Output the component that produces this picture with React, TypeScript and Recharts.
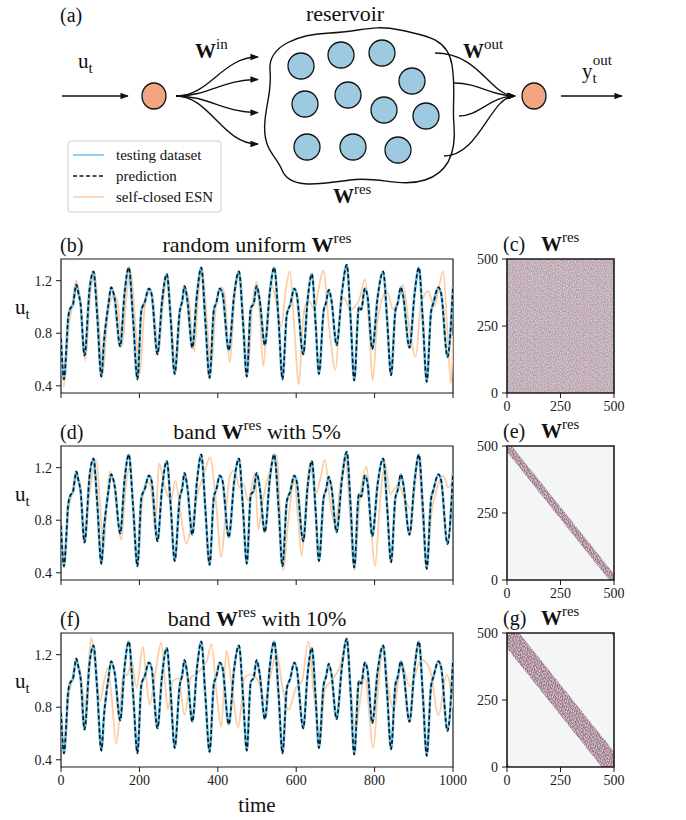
import React from "react";
import {
  LineChart,
  Line,
  ComposedChart,
  Area,
  XAxis,
  YAxis,
  ReferenceArea,
} from "recharts";

const FONT = '"Liberation Serif", "Times New Roman", serif';
const INK = "#1a1a1a";
const BLUE = "#64c2ec";
const PEACH = "#fdcda4";
const NODE = "#f2a583";
const CELL = "#9ecae1";

// ---- data ----
const timeTicks = [0, 200, 400, 600, 800, 1000];
const uTicks = [0.4, 0.8, 1.2];
const matrixTicks = [0, 250, 500];

// testing dataset (time, u_t); the prediction sits on top of it
const testing: [number, number][] = [
  [0, 0.76], [7.6, 0.45], [14, 0.7], [18, 0.91], [24, 0.99], [30, 1.01], [39, 1.17], [44, 1.11],
  [50, 1.02], [60, 0.63], [73, 1.14], [83, 1.27], [92, 0.95], [103, 0.47], [110, 0.75], [116, 0.91],
  [121, 1.02], [128, 1.15], [137, 1.06], [151, 0.7], [162, 1.1], [173, 1.3], [184, 0.9], [195, 0.45],
  [205, 0.97], [214, 1.04], [224, 1.14], [231, 1.1], [246, 0.64], [258, 1.05], [270, 1.25], [280, 0.9],
  [290, 0.49], [303, 0.97], [309, 1.04], [315, 1.16], [322, 1.06], [335, 0.69], [347, 1.1], [358, 1.3],
  [368, 0.9], [379, 0.46], [390, 0.98], [396, 1.03], [405, 1.14], [412, 1.1], [428, 0.67], [442, 1.1],
  [454, 1.27], [464, 0.9], [474, 0.47], [484, 0.99], [492, 1.03], [499, 1.16], [507, 1.05], [520, 0.71],
  [533, 1.12], [544, 1.3], [555, 0.9], [565, 0.45], [576, 0.94], [585, 1.02], [595, 1.14], [601, 1.1],
  [618, 0.64], [629, 1.05], [640, 1.25], [650, 0.85], [658, 0.49], [670, 0.97], [676, 1.03], [683, 1.13],
  [690, 1.05], [703, 0.71], [717, 1.12], [729, 1.32], [739, 0.9], [748, 0.44], [760, 1.0], [766, 0.98],
  [775, 1.14], [782, 1.08], [794, 0.68], [808, 1.08], [822, 1.27], [832, 0.9], [842, 0.48], [853, 0.97],
  [859, 1.03], [867, 1.15], [873, 1.08], [889, 0.69], [902, 1.1], [913, 1.3], [923, 0.9], [933, 0.43],
  [944, 0.96], [950, 1.03], [963, 1.15], [970, 1.1], [986, 0.62], [1000, 1.16],
];
const prediction = testing;

const selfClosedUniform: [number, number][] = [
  [0, 0.72], [7, 0.39], [20, 0.86], [28, 1.0], [39, 1.2], [48, 1.08], [62, 0.59], [75, 1.1],
  [86, 1.25], [96, 0.9], [107, 0.5], [118, 0.9], [128, 1.06], [137, 1.09], [145, 1.02], [156, 0.7],
  [166, 1.05], [178, 1.27], [190, 0.85], [201, 0.49], [212, 0.95], [222, 1.1], [232, 1.1], [249, 0.66],
  [260, 1.02], [272, 1.24], [282, 0.88], [292, 0.52], [305, 0.98], [318, 1.14], [326, 1.05], [340, 0.66],
  [350, 1.08], [360, 1.28], [372, 0.9], [383, 0.53], [395, 1.0], [410, 1.15], [418, 1.08], [430, 0.58],
  [444, 1.1], [456, 1.27], [466, 0.88], [477, 0.52], [488, 1.02], [500, 1.19], [507, 0.95], [516, 0.55],
  [527, 0.95], [537, 1.18], [548, 1.05], [562, 0.85], [573, 1.12], [584, 1.27], [595, 0.85], [607, 0.41],
  [615, 0.8], [622, 1.0], [632, 1.05], [647, 0.98], [658, 1.15], [669, 1.28], [684, 0.85], [700, 0.52],
  [712, 0.95], [722, 1.07], [738, 0.98], [760, 1.05], [776, 1.21], [786, 0.85], [795, 0.44], [806, 0.85],
  [818, 1.05], [831, 1.12], [848, 0.98], [860, 1.05], [873, 1.17], [888, 0.85], [905, 0.62], [918, 1.02],
  [937, 1.12], [952, 1.0], [964, 1.15], [975, 1.27], [985, 0.85], [995, 0.42], [1000, 0.78],
];

const selfClosedBand5: [number, number][] = [
  [0, 0.74], [8, 0.44], [18, 0.85], [30, 1.02], [38, 1.12], [48, 1.08], [60, 0.73], [70, 0.95],
  [80, 1.15], [90, 1.26], [100, 0.9], [108, 0.57], [116, 0.9], [124, 1.17], [134, 1.1], [154, 0.65],
  [164, 1.02], [175, 1.2], [186, 0.85], [196, 0.48], [206, 0.9], [218, 1.1], [230, 1.05], [240, 0.72],
  [250, 1.23], [265, 1.05], [280, 0.95], [292, 1.1], [305, 0.85], [320, 0.62], [335, 0.8], [350, 1.02],
  [365, 1.15], [380, 1.28], [395, 0.95], [409, 0.52], [420, 0.85], [432, 1.15], [443, 1.18], [455, 1.05],
  [465, 1.08], [477, 0.95], [495, 1.16], [503, 0.73], [515, 0.95], [530, 1.15], [550, 1.3], [567, 0.42],
  [580, 0.8], [595, 1.1], [605, 0.8], [614, 0.53], [625, 0.95], [635, 1.23], [650, 1.0], [662, 1.12],
  [673, 1.26], [686, 0.95], [699, 0.76], [712, 1.05], [725, 1.3], [737, 0.85], [748, 0.42], [762, 0.95],
  [780, 1.21], [790, 0.8], [801, 0.45], [814, 0.95], [827, 1.23], [840, 1.0], [861, 1.07], [878, 0.95],
  [895, 0.88], [912, 1.28], [922, 0.85], [933, 0.45], [945, 0.85], [960, 1.05], [975, 1.14], [988, 1.05],
  [1000, 1.1],
];

const selfClosedBand10: [number, number][] = [
  [0, 0.74], [8, 0.44], [18, 0.85], [28, 1.0], [38, 1.15], [50, 1.05], [62, 0.8], [70, 1.1],
  [77, 1.33], [88, 1.1], [100, 0.85], [110, 1.0], [120, 1.1], [130, 0.85], [141, 0.52], [150, 0.75],
  [158, 1.03], [170, 1.05], [180, 1.15], [193, 0.95], [209, 1.26], [218, 1.0], [226, 0.82], [240, 1.05],
  [256, 1.29], [265, 1.0], [273, 0.78], [285, 1.0], [300, 1.02], [315, 0.74], [332, 1.03], [345, 1.05],
  [360, 1.1], [372, 1.15], [384, 1.28], [397, 0.9], [409, 0.65], [422, 1.23], [436, 0.95], [452, 0.65],
  [469, 1.03], [485, 1.05], [503, 1.0], [520, 0.85], [535, 1.05], [550, 1.21], [565, 0.95], [580, 0.78],
  [600, 0.95], [615, 1.0], [631, 1.3], [645, 0.9], [661, 0.55], [673, 0.94], [690, 1.0], [710, 1.1],
  [729, 1.28], [740, 0.9], [750, 0.65], [775, 1.03], [797, 0.49], [808, 0.9], [822, 1.26], [835, 0.95],
  [848, 0.78], [869, 1.13], [890, 0.96], [920, 1.16], [941, 1.09], [963, 0.74], [984, 1.05], [1000, 0.8],
];

// band edges of W_res: [column, lowest row, highest row]
const band5: [number, number, number][] = [[0, 478, 500], [22, 456, 500], [478, 0, 44], [500, 0, 22]];
const band10: [number, number, number][] = [[0, 443, 500], [57, 386, 500], [443, 0, 114], [500, 0, 57]];
const cornerLow: [number, number, number][] = [[0, 0, 14], [14, 0, 0]];
const cornerHigh: [number, number, number][] = [[486, 500, 500], [500, 486, 500]];

const colorbarUniform = [-0.2, 0, 0.2];
const colorbarBand5 = [-0.7, 0, 0.7];
const colorbarBand10 = [-0.5, 0, 0.5];

// ---- styles ----
const U_MIN = 0.345;
const U_MAX = 1.365;
const PANEL_H = 134;
const RDBU = ["#67001f", "#b2182b", "#d6604d", "#f4a582", "#fddbc7", "#f7f7f7", "#d1e5f0", "#92c5de", "#4393c3", "#2166ac", "#053061"];
// speckle tiles; layered at different angles so the texture doesn't read as stripes
const TILE_A = ["RbwBrmb", "mrBbRwr", "bwRrmBw", "BmbwRrb", "rRwbBmR", "wbBmrRb", "mrwRbwB"];
const TILE_B = ["BrwRb", "wRbmr", "rbBwR", "RmrbB", "bwRrm"];
const SOFT: Record<string, string> = { R: "#cf7f7a", r: "#e4b2a8", B: "#7ea3c8", b: "#b3c9de", w: "#e8e1e4", m: "#bea8b7" };
const STRONG: Record<string, string> = { R: "#c0434b", r: "#ec9c8a", B: "#3e7db6", b: "#94bedb", w: "#eee5e8", m: "#b08aa0" };

const pts = (arr: [number, number][]) => arr.map(([t, v]) => ({ t, v }));
const bandPts = (arr: [number, number, number][]) => arr.map(([x, lo, hi]) => ({ x, r: [lo, hi] }));
const fmtCb = (v: number) => (v < 0 ? "-" : "") + Math.abs(v).toFixed(1);

const tickStyle = { fill: INK, fontSize: 14, fontFamily: FONT };

function speckle(id: string, tile: string[], palette: Record<string, string>, transform?: string) {
  const n = tile.length;
  return (
    <pattern id={id} width={n} height={n} patternUnits="userSpaceOnUse" patternTransform={transform}>
      {tile.flatMap((row, y) =>
        row.split("").map((c, x) => (
          <rect key={`${x}-${y}`} x={x} y={y} width={1} height={1} fill={palette[c]} />
        ))
      )}
    </pattern>
  );
}

function SharedDefs() {
  return (
    <svg width={0} height={0} style={{ position: "absolute" }}>
      <defs>
        {speckle("softA", TILE_A, SOFT)}
        {speckle("softB", TILE_B, SOFT, "rotate(33)")}
        {speckle("softC", TILE_A, SOFT, "rotate(-61) scale(0.9)")}
        {speckle("strongA", TILE_A, STRONG)}
        {speckle("strongB", TILE_B, STRONG, "rotate(33)")}
        <linearGradient id="rdbu" x1="0" y1="1" x2="0" y2="0">
          {RDBU.map((c, i) => (
            <stop key={c} offset={i / (RDBU.length - 1)} stopColor={c} />
          ))}
        </linearGradient>
        <marker id="arrow" viewBox="0 0 10 10" refX="9" refY="5" markerWidth="6" markerHeight="6" orient="auto">
          <path d="M0,1 L10,5 L0,9 z" fill="#111" />
        </marker>
      </defs>
    </svg>
  );
}

function TimePanel({ top, selfClosed, showLabels }: { top: number; selfClosed: [number, number][]; showLabels?: boolean }) {
  return (
    <div style={{ position: "absolute", left: 0, top: top - 4 }}>
      <LineChart width={472} height={PANEL_H + 4 + 30} margin={{ top: 4, right: 19, bottom: 0, left: 0 }}>
        <XAxis
          type="number"
          dataKey="t"
          domain={[0, 1000]}
          ticks={timeTicks}
          height={30}
          axisLine={false}
          tickSize={5}
          tickMargin={3}
          tickLine={{ stroke: INK }}
          tick={tickStyle}
          tickFormatter={(v: number) => (showLabels ? String(v) : "")}
          allowDataOverflow
        />
        <YAxis
          type="number"
          domain={[U_MIN, U_MAX]}
          ticks={uTicks}
          width={61}
          axisLine={false}
          tickSize={5}
          tickMargin={4}
          tickLine={{ stroke: INK }}
          tick={tickStyle}
          tickFormatter={(v: number) => v.toFixed(1)}
          allowDataOverflow
        />
        <Line data={pts(selfClosed)} dataKey="v" type="monotone" stroke={PEACH} strokeWidth={1.8} dot={false} activeDot={false} isAnimationActive={false} />
        <Line data={pts(testing)} dataKey="v" type="monotone" stroke={BLUE} strokeWidth={2.6} dot={false} activeDot={false} isAnimationActive={false} />
        <Line data={pts(prediction)} dataKey="v" type="monotone" stroke="#111" strokeWidth={1.6} strokeDasharray="4 2.5" dot={false} activeDot={false} isAnimationActive={false} />
        <ReferenceArea x1={0} x2={1000} y1={U_MIN} y2={U_MAX} fill="none" stroke={INK} strokeWidth={1.2} />
      </LineChart>
    </div>
  );
}

function BandArea({ data, fill, opacity }: { data: [number, number, number][]; fill: string; opacity: number }) {
  return <Area data={bandPts(data)} dataKey="r" type="linear" stroke="none" fill={fill} fillOpacity={opacity} isAnimationActive={false} />;
}

function MatrixPanel({ top, band, corners }: { top: number; band?: [number, number, number][]; corners?: boolean }) {
  const layers = band ? [band, ...(corners ? [cornerLow, cornerHigh] : [])] : [];
  return (
    <div style={{ position: "absolute", left: 460, top: top - 8 }}>
      <ComposedChart width={168} height={PANEL_H + 8 + 28} margin={{ top: 8, right: 14, bottom: 0, left: 0 }} data={[{ x: 0 }, { x: 500 }]}>
        <XAxis
          type="number"
          dataKey="x"
          domain={[0, 500]}
          ticks={matrixTicks}
          height={28}
          axisLine={false}
          tickSize={5}
          tickMargin={3}
          tickLine={{ stroke: INK }}
          tick={tickStyle}
          allowDataOverflow
        />
        <YAxis
          type="number"
          domain={[0, 500]}
          ticks={matrixTicks}
          width={47}
          axisLine={false}
          tickSize={5}
          tickMargin={4}
          tickLine={{ stroke: INK }}
          tick={tickStyle}
          allowDataOverflow
        />
        {band ? (
          <ReferenceArea x1={0} x2={500} y1={0} y2={500} fill="#f4f6f6" fillOpacity={1} stroke="none" />
        ) : (
          <ReferenceArea x1={0} x2={500} y1={0} y2={500} fill="url(#softA)" fillOpacity={1} stroke="none" />
        )}
        {!band && <ReferenceArea x1={0} x2={500} y1={0} y2={500} fill="url(#softB)" fillOpacity={0.5} stroke="none" />}
        {!band && <ReferenceArea x1={0} x2={500} y1={0} y2={500} fill="url(#softC)" fillOpacity={0.35} stroke="none" />}
        {layers.map((d, i) => (
          <BandArea key={`a${i}`} data={d} fill="url(#strongA)" opacity={1} />
        ))}
        {layers.map((d, i) => (
          <BandArea key={`b${i}`} data={d} fill="url(#strongB)" opacity={0.5} />
        ))}
        <ReferenceArea x1={0} x2={500} y1={0} y2={500} fill="none" stroke={INK} strokeWidth={1.6} />
      </ComposedChart>
    </div>
  );
}

function Colorbar({ top, ticks }: { top: number; ticks: number[] }) {
  const lo = ticks[0];
  const hi = ticks[ticks.length - 1];
  return (
    <div style={{ position: "absolute", left: 620, top: top - 8 }}>
      <ComposedChart width={56} height={PANEL_H + 16} margin={{ top: 8, right: 0, bottom: 8, left: 0 }} data={[{ x: 0 }, { x: 1 }]}>
        <XAxis type="number" dataKey="x" domain={[0, 1]} hide />
        <YAxis
          orientation="right"
          type="number"
          domain={[lo, hi]}
          ticks={ticks}
          width={49}
          axisLine={false}
          tickSize={5}
          tickMargin={3}
          tickLine={{ stroke: INK }}
          tick={tickStyle}
          tickFormatter={fmtCb}
        />
        <ReferenceArea x1={0} x2={1} y1={lo} y2={hi} fill="url(#rdbu)" fillOpacity={1} stroke={INK} strokeWidth={1} />
      </ComposedChart>
    </div>
  );
}

function Wres({ size = 22 }: { size?: number }) {
  return (
    <>
      <tspan fontWeight="bold">W</tspan>
      <tspan fontSize={size * 0.7} dy={-size * 0.42}>res</tspan>
    </>
  );
}

function Overlay() {
  const fanTips = [57, 79.5, 112.6, 144];
  const fanStarts: [number, number][] = [[435, 53], [454, 83], [459, 116], [444, 156]];
  const cells: [number, number][] = [
    [301, 66], [341, 55], [382, 53], [412, 81], [305, 104], [348, 95],
    [384, 110], [426, 116], [307, 147], [353, 147], [398, 150],
  ];
  const timeTitles: [number, string, string, string][] = [
    [259, "(b)", "random uniform ", ""],
    [446, "(d)", "band ", " with 5%"],
    [633, "(f)", "band ", " with 10%"],
  ];
  const matrixTitles: [number, string][] = [[259, "(c)"], [446, "(e)"], [633, "(g)"]];
  return (
    <svg width={686} height={820} style={{ position: "absolute", left: 0, top: 0, pointerEvents: "none" }} fontFamily={FONT} fill="#111">
      {/* (a) reservoir sketch */}
      <text x={60} y={22} fontSize={20}>(a)</text>
      <text x={345} y={21} fontSize={22} textAnchor="middle">reservoir</text>
      <line x1={62} y1={96} x2={128} y2={96} stroke="#111" strokeWidth={1.4} markerEnd="url(#arrow)" />
      <text x={78} y={68} fontSize={21}>
        u<tspan fontSize={15} dy={5}>t</tspan>
      </text>
      <ellipse cx={154} cy={96} rx={12} ry={13} fill={NODE} stroke="#111" strokeWidth={1.3} />
      {fanTips.map((y) => (
        <path key={y} d={`M176 96 C210 96,222 ${y},258 ${y}`} fill="none" stroke="#111" strokeWidth={1.4} markerEnd="url(#arrow)" />
      ))}
      <text x={195} y={58} fontSize={21}>
        <tspan fontWeight="bold">W</tspan>
        <tspan fontSize={15} dy={-9}>in</tspan>
      </text>
      <path
        d="M270 70 C268 45,300 34,330 33 C360 32,372 24,400 30 C430 36,448 40,452 65 C456 90,452 105,454 125 C456 150,450 172,425 180 C400 188,380 176,350 180 C320 184,290 190,282 170 C276 155,262 150,265 120 C267 100,272 90,270 70 Z"
        fill="#fff"
        stroke="#111"
        strokeWidth={1.4}
      />
      {cells.map(([cx, cy]) => (
        <circle key={`${cx}-${cy}`} cx={cx} cy={cy} r={13} fill={CELL} stroke="#111" strokeWidth={1.3} />
      ))}
      <text x={333} y={203} fontSize={21}>
        <Wres size={21} />
      </text>
      {fanStarts.map(([x, y]) => (
        <path key={y} d={`M${x} ${y} C480 ${y},490 96,515 96`} fill="none" stroke="#111" strokeWidth={1.4} markerEnd="url(#arrow)" />
      ))}
      <text x={463} y={58} fontSize={21}>
        <tspan fontWeight="bold">W</tspan>
        <tspan fontSize={15} dy={-9}>out</tspan>
      </text>
      <ellipse cx={534} cy={96} rx={12} ry={13} fill={NODE} stroke="#111" strokeWidth={1.3} />
      <line x1={561} y1={96} x2={622} y2={96} stroke="#111" strokeWidth={1.4} markerEnd="url(#arrow)" />
      <text x={582} y={78} fontSize={21}>
        y<tspan fontSize={15} dy={5}>t</tspan>
        <tspan fontSize={15} dx={-4} dy={-18}>out</tspan>
      </text>

      {/* legend */}
      <rect x={68} y={141} width={153} height={71} rx={3} fill="#fff" fillOpacity={0.85} stroke="#cccccc" strokeWidth={1} />
      <line x1={73} y1={155} x2={104} y2={155} stroke={BLUE} strokeWidth={1.5} />
      <line x1={73} y1={176} x2={104} y2={176} stroke="#111" strokeWidth={1.5} strokeDasharray="4 2.5" />
      <line x1={73} y1={197} x2={104} y2={197} stroke={PEACH} strokeWidth={1.5} />
      <text x={116} y={160} fontSize={15}>testing dataset</text>
      <text x={116} y={181} fontSize={15}>prediction</text>
      <text x={116} y={202} fontSize={15}>self-closed ESN</text>

      {/* panel titles and labels */}
      {timeTitles.map(([top, tag, pre, post]) => (
        <g key={tag}>
          <text x={60} y={top - 7} fontSize={20}>{tag}</text>
          <text x={257} y={top - 7} fontSize={22} textAnchor="middle">
            {pre}
            <Wres />
            <tspan dy={9}>{post}</tspan>
          </text>
          <text x={15} y={top + 55} fontSize={21}>
            u<tspan fontSize={15} dy={5}>t</tspan>
          </text>
        </g>
      ))}
      {matrixTitles.map(([top, tag]) => (
        <g key={tag}>
          <text x={503} y={top - 8} fontSize={20}>{tag}</text>
          <text x={541} y={top - 8} fontSize={21}>
            <Wres size={21} />
          </text>
        </g>
      ))}
      <text x={257} y={812} fontSize={21} textAnchor="middle">time</text>
    </svg>
  );
}

export default function App() {
  return (
    <div style={{ position: "fixed", left: 0, top: 0, width: 686, height: 820, background: "#fff", overflow: "hidden", fontFamily: FONT }}>
      <style>{`.recharts-wrapper text, .recharts-text { font-family: ${FONT} !important; }`}</style>
      <SharedDefs />
      <TimePanel top={259} selfClosed={selfClosedUniform} />
      <TimePanel top={446} selfClosed={selfClosedBand5} />
      <TimePanel top={633} selfClosed={selfClosedBand10} showLabels />
      <MatrixPanel top={259} />
      <MatrixPanel top={446} band={band5} />
      <MatrixPanel top={633} band={band10} corners />
      <Colorbar top={259} ticks={colorbarUniform} />
      <Colorbar top={446} ticks={colorbarBand5} />
      <Colorbar top={633} ticks={colorbarBand10} />
      <Overlay />
    </div>
  );
}
